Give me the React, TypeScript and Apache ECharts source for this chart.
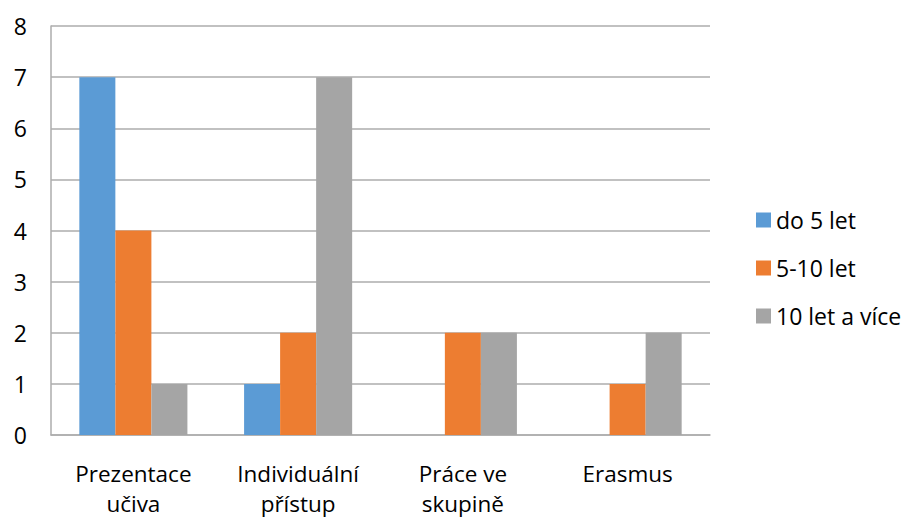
import React, { useEffect, useRef } from "react";
import * as echarts from "echarts";

const categories = ["Prezentace\nučiva", "Individuální\npřístup", "Práce ve\nskupině", "Erasmus"];
const seriesNames = ["do 5 let", "5-10 let", "10 let a více"];
const do5 = [7, 1, 0, 0];
const s5to10 = [4, 2, 2, 1];
const s10plus = [1, 7, 2, 2];
const colors = ["#5B9BD5", "#ED7D31", "#A5A5A5"];

export default function App() {
  const ref = useRef<HTMLDivElement>(null);
  useEffect(() => {
    const chart = echarts.init(ref.current!, undefined, { renderer: "svg" });
    const font = "'Open Sans', sans-serif";
    const data = [do5, s5to10, s10plus];
    chart.setOption({
      animation: false,
      textStyle: { fontFamily: font },
      grid: { left: 51, top: 26, right: 193, bottom: 76 },
      legend: {
        orient: "vertical",
        left: 751,
        top: 200,
        itemWidth: 15,
        itemHeight: 15,
        itemGap: 18,
        icon: "rect",
        textStyle: { fontSize: 23, color: "#000", fontFamily: font, lineHeight: 30 },
        data: seriesNames,
      },
      xAxis: {
        type: "category",
        data: categories,
        axisLine: { show: true, lineStyle: { color: "#ADADAD", width: 1.5 } },
        axisTick: { show: false },
        axisLabel: { fontSize: 22.5, color: "#000", margin: 23, lineHeight: 30, fontFamily: font },
      },
      yAxis: {
        type: "value",
        min: 0,
        max: 8,
        interval: 1,
        axisLine: { show: true, lineStyle: { color: "#ADADAD", width: 1.5 } },
        axisTick: { show: false },
        splitLine: { lineStyle: { color: "#ADADAD", width: 1.5 } },
        axisLabel: { fontSize: 23, color: "#000", margin: 24, fontFamily: font },
      },
      series: seriesNames.map((name, i) => ({
        name,
        type: "bar",
        data: data[i],
        itemStyle: { color: colors[i] },
        barGap: "0%",
        barCategoryGap: "34.4%",
      })),
    });
    return () => chart.dispose();
  }, []);
  return <div ref={ref} style={{ position: "absolute", left: 0, top: 0, width: 903, height: 518 }} />;
}
